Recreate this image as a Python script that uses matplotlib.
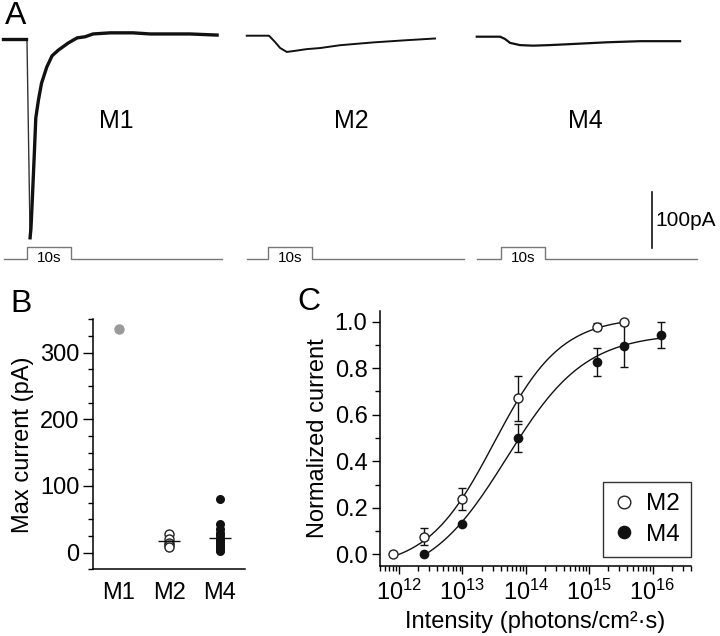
import numpy as np
import matplotlib.pyplot as plt
from matplotlib.ticker import MultipleLocator, LogLocator, FuncFormatter, NullFormatter

plt.rcParams['font.family'] = ['Liberation Sans', 'DejaVu Sans']
plt.rcParams['mathtext.fontset'] = 'custom'
plt.rcParams['mathtext.rm'] = 'Liberation Sans'
plt.rcParams['mathtext.it'] = 'Liberation Sans:italic'
plt.rcParams['axes.linewidth'] = 1.1

# ---- 데이터 ----
# A: 광자극 시작 기준 시간 (s), 전류 (pA)
m1_t = [-5.4, -0.2, 0.0, 0.35, 0.7, 0.9, 1.2, 1.7, 2.0, 2.6, 3.3, 4.5, 5.7, 7.1,
        9.4, 11.4, 13.2, 15.0, 18.9, 24.1, 28.0, 31.8, 37.0, 43.2]
m1_pA = [0, 0, -5, -180, -355, -338, -288, -198, -141, -109, -79, -50, -30, -20,
         -7, 2, 4, 9, 11, 11, 9, 9, 9, 7]
m2_t = [-4.9, 0.16, 1.5, 2.7, 4.2, 6.1, 8.7, 11.8, 16.3, 23.8, 31.5, 37.9]
m2_pA = [0, 0, -11, -22, -29, -27, -24, -22, -17, -12, -8, -5]
m4_t = [-5.5, -0.2, 0.9, 2.05, 4.3, 7.3, 11.1, 16.4, 24.0, 31.6, 40.7]
m4_pA = [0, 0, -4, -11, -15, -16, -15, -13, -10, -8, -8]
trace_names = ['M1', 'M2', 'M4']
stim_on = 0.0
stim_off = 10.0
stim_start = [-5.2, -4.8, -5.5]
stim_end = [44.3, 44.5, 44.5]

# B: 최대 전류 (pA)
b_cats = ['M1', 'M2', 'M4']
b_m1 = [335]
b_m2 = [28, 20, 15, 12, 9]
b_m4 = [80, 43, 36, 30, 26, 22, 19, 16, 13, 11, 9, 7, 5, 4, 3]

# C: 강도-반응 곡선
c_m2_x = [7.9e11, 2.5e12, 1.0e13, 7.6e13, 1.31e15, 3.5e15]
c_m2_y = [0.0, 0.076, 0.237, 0.67, 0.979, 1.0]
c_m2_err = [0, 0.036, 0.048, 0.095, 0.014, 0]
c_m4_x = [2.5e12, 1.0e13, 7.6e13, 1.31e15, 3.5e15, 1.35e16]
c_m4_y = [0.0, 0.13, 0.499, 0.825, 0.897, 0.943]
c_m4_err = [0, 0, 0.06, 0.06, 0.09, 0.056]
# 피팅 파라미터 (bottom, top, log10 I50, slope)
m2_fit = (-0.06, 1.02, 13.5, 0.82)
m4_fit = (-0.12, 0.95, 13.7, 0.70)


def hill(x, p):
    b, t, c, n = p
    return b + (t - b) / (1 + 10 ** (n * (c - np.log10(x))))


W, H = 720, 636
fig = plt.figure(figsize=(W / 100, H / 100), dpi=100)


def px_axes(x0, x1, y0, y1):
    return fig.add_axes([x0 / W, 1 - y1 / H, (x1 - x0) / W, (y1 - y0) / H])


# ---- A: 전류 트레이스 ----
px_per_s = 4.4
px_per_pA = 0.56
onset_px = [27, 268.3, 501]
base_px = [39, 35.7, 36.7]
x_ranges = [(0, 240), (240, 470), (470, 720)]
traces = [(m1_t, m1_pA, 2.4), (m2_t, m2_pA, 1.4), (m4_t, m4_pA, 1.6)]
A_H = 270
stim_lo = 1 - 259.3 / A_H
stim_hi = 1 - 246.7 / A_H

axes_a = []
for i, (tt, cur, lw) in enumerate(traces):
    x0, x1 = x_ranges[i]
    ax = px_axes(x0, x1, 0, A_H)
    ax.set_xlim((x0 - onset_px[i]) / px_per_s, (x1 - onset_px[i]) / px_per_s)
    ax.set_ylim(-(A_H - base_px[i]) / px_per_pA, base_px[i] / px_per_pA)
    if i == 0:
        # 하강 구간은 가늘게, 회복 구간은 노이즈 때문에 두껍게 보임
        ax.plot(tt[:5], cur[:5], color='#333333', lw=1.0)
        ax.plot(tt[:2], cur[:2], color='#111111', lw=lw)
        ax.plot(tt[4:], cur[4:], color='#111111', lw=lw)
    else:
        ax.plot(tt, cur, color='#111111', lw=lw)
    # 10 s 광자극
    st = [stim_start[i], stim_on, stim_on, stim_off, stim_off, stim_end[i]]
    lv = [stim_lo, stim_lo, stim_hi, stim_hi, stim_lo, stim_lo]
    ax.plot(st, lv, color='#777777', lw=1, transform=ax.get_xaxis_transform())
    ax.text((stim_on + stim_off) / 2, 1 - 257.5 / A_H, '10s', ha='center', va='center',
            fontsize=11, transform=ax.get_xaxis_transform())
    ax.axis('off')
    axes_a.append(ax)

label_x = [116, 351.7, 585]
for name, lx in zip(trace_names, label_x):
    fig.text(lx / W, 1 - 121 / H, name, ha='center', va='center', fontsize=18)

# 스케일 바 (100 pA)
ax = axes_a[2]
bar_t = 34.4
bar_bottom = -377.5
ax.plot([bar_t, bar_t], [bar_bottom, bar_bottom + 100], color='#111111', lw=1.2)
ax.text(bar_t + 0.6, bar_bottom + 50, '100pA', ha='left', va='center', fontsize=15)

# ---- B: 최대 전류 ----
axB = px_axes(93.3, 245, 319.3, 569.3)
axB.plot([0] * len(b_m1), b_m1, 'o', color='#9a9a9a', ms=7.5, mec='none')
axB.plot([1] * len(b_m2), b_m2, 'o', mfc='white', mec='#222222', mew=1, ms=6.5)
axB.plot([2] * len(b_m4), b_m4, 'o', color='#111111', ms=6.5, mec='none')
for xi, vals in [(1, b_m2), (2, b_m4)]:
    axB.hlines(np.mean(vals), xi - 0.22, xi + 0.22, color='#111111', lw=1)
axB.set_xlim(-0.5, 2.5)
axB.set_ylim(-25, 350)
axB.set_xticks(range(len(b_cats)))
axB.set_xticklabels(b_cats)
axB.yaxis.set_major_locator(MultipleLocator(100))
axB.yaxis.set_minor_locator(MultipleLocator(25))
axB.tick_params(axis='x', length=0, pad=9, labelsize=17)
axB.tick_params(axis='y', which='major', length=7, width=1, pad=3, labelsize=17)
axB.tick_params(axis='y', which='minor', length=3.5, width=1)
axB.spines['top'].set_visible(False)
axB.spines['right'].set_visible(False)
axB.set_ylabel('Max current (pA)', fontsize=17, labelpad=4)

# ---- C: 정규화 전류 ----
axC = px_axes(380, 690.7, 310.7, 566)
axC.set_xscale('log')
for xs, ys, err, p in [(c_m2_x, c_m2_y, c_m2_err, m2_fit),
                       (c_m4_x, c_m4_y, c_m4_err, m4_fit)]:
    xf = np.logspace(np.log10(xs[0]), np.log10(xs[-1]), 200)
    axC.plot(xf, hill(xf, p), color='#111111', lw=1, zorder=2)
    xe = [x for x, e in zip(xs, err) if e > 0]
    ye = [y for y, e in zip(ys, err) if e > 0]
    ee = [e for e in err if e > 0]
    axC.errorbar(xe, ye, yerr=ee, fmt='none', ecolor='#111111', elinewidth=1,
                 capsize=3, capthick=1, zorder=3)
m2_line, = axC.plot(c_m2_x, c_m2_y, 'o', mfc='white', mec='#222222', mew=1, ms=6.5,
                    zorder=4, label='M2')
m4_line, = axC.plot(c_m4_x, c_m4_y, 'o', color='#111111', ms=7, mec='none',
                    zorder=4, label='M4')
axC.set_xlim(5e11, 4e16)
axC.set_ylim(-0.05, 1.047)
axC.xaxis.set_major_locator(LogLocator(base=10, numticks=10))
axC.xaxis.set_minor_locator(LogLocator(base=10, subs=np.arange(2, 10), numticks=20))
axC.xaxis.set_major_formatter(FuncFormatter(
    lambda v, pos: r'$\mathregular{10^{%d}}$' % int(round(np.log10(v)))))
axC.xaxis.set_minor_formatter(NullFormatter())
axC.yaxis.set_major_locator(MultipleLocator(0.2))
axC.yaxis.set_minor_locator(MultipleLocator(0.1))
axC.yaxis.set_major_formatter(FuncFormatter(lambda v, pos: '%.1f' % v))
axC.tick_params(which='major', length=6, width=1, labelsize=17)
axC.tick_params(which='minor', length=3.5, width=1)
axC.tick_params(axis='x', pad=4)
axC.tick_params(axis='y', pad=3)
axC.spines['top'].set_visible(False)
axC.spines['right'].set_visible(False)
axC.set_ylabel('Normalized current', fontsize=17, labelpad=4)
axC.set_xlabel('Intensity (photons/cm²·s)', fontsize=17, labelpad=4)
leg = axC.legend(handles=[m2_line, m4_line], loc='lower right', bbox_to_anchor=(1.0, 0.036),
                 borderaxespad=0, fontsize=17.5, markerscale=1.4, handlelength=0.8,
                 handletextpad=0.5, borderpad=0.45, labelspacing=0.35, fancybox=False,
                 edgecolor='#333333', framealpha=1)
leg.get_frame().set_linewidth(1)

# 패널 라벨
fig.text(5 / W, 1 - 16 / H, 'A', fontsize=23, va='center', ha='left')
fig.text(10 / W, 1 - 304 / H, 'B', fontsize=23, va='center', ha='left')
fig.text(297 / W, 1 - 302 / H, 'C', fontsize=23, va='center', ha='left')

fig.savefig('out.png', dpi=100)
